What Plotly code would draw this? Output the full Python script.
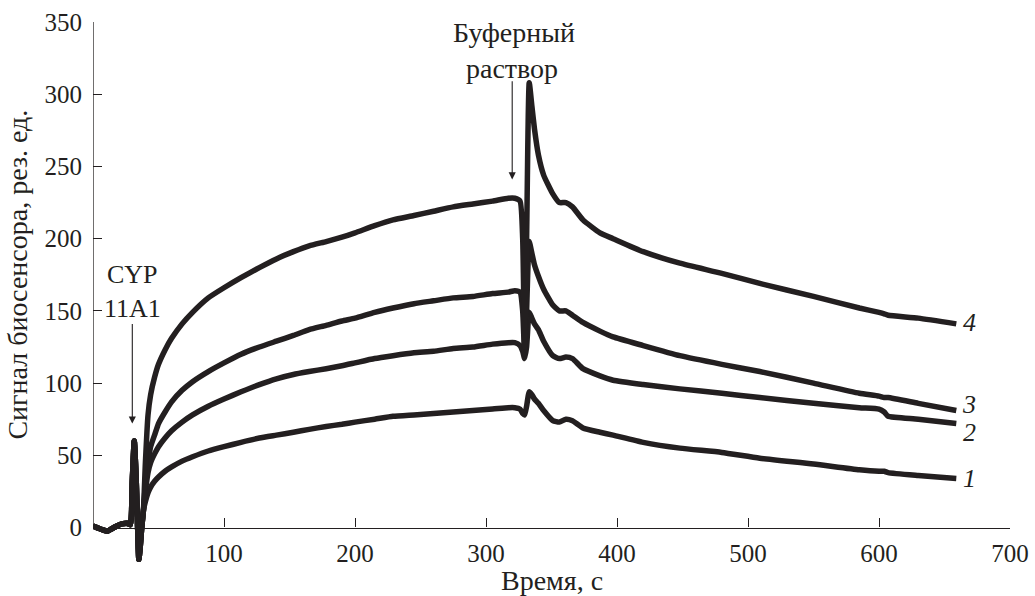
import plotly.graph_objects as go

# shared baseline + injection spike (all curves overlap here)
t_pre = [0, 3, 7, 11, 14, 16, 19, 22, 26, 28.5, 30, 31.5, 33, 34, 35, 36, 37, 38.5]
y_pre = [1, 0, -1.5, -2.5, -1, 0, 1.5, 2.5, 3, 2, 32, 60, 32, 2, -22, -14, -2, 12]

t = [40, 42, 44, 47, 50, 55, 60, 68, 76, 88,
     100, 113, 127, 140, 153, 165, 178, 190, 200, 215,
     229, 245, 260, 275, 290, 305, 317, 322, 326, 328,
     329.5, 331, 333, 335, 337, 340, 344, 351, 356, 361,
     366, 374, 387, 397, 420, 448, 480, 509, 550, 585,
     600, 604, 607, 630, 659]

curve4 = [45, 78, 92, 104, 113, 123, 131, 141, 149, 159,
          166, 173, 180, 186, 191, 195, 198, 201, 204, 209,
          213, 216, 219, 222, 224, 226, 228, 228, 226, 200,
          125, 200, 308, 292, 276, 258, 244, 231, 225, 225,
          222, 213, 204, 200, 191, 183, 176, 169, 160, 152,
          149, 148, 147, 145, 141]
curve3 = [30, 45, 56, 64, 72, 80, 87, 95, 101, 108,
          114, 120, 125, 129, 133, 137, 140, 143, 145, 149,
          152, 155, 157, 159, 160, 162, 163, 164, 163, 150,
          120, 150, 198, 190, 182, 174, 165, 154, 150, 150,
          147, 142, 136, 132, 126, 119, 113, 108, 100, 93,
          91, 90, 90, 86, 81]
curve2 = [25, 38, 45, 51, 56, 62, 67, 73, 78, 84,
          89, 94, 99, 103, 106, 108, 110, 112, 114, 117,
          119, 121, 122, 124, 125, 127, 128, 128, 126, 122,
          117, 125, 149, 145, 141, 137, 129, 119, 117, 118,
          117, 110, 105, 102, 99, 96, 93, 90, 86, 83,
          82, 80, 77, 75, 72]
curve1 = [18, 24, 28, 32, 35, 39, 42, 46, 49, 53,
          56, 59, 62, 64, 66, 68, 70, 71.5, 73, 75,
          77, 78, 79, 80, 81, 82, 83, 83, 82, 79,
          78, 84, 94, 92, 89, 86, 81, 74, 73, 75,
          74, 69, 66, 64, 59, 55, 52, 48, 44, 40,
          39, 39, 38, 36, 34]

curve_labels = ["1", "2", "3", "4"]
label_y = [34, 66, 85, 142]

x_ticks = [100, 200, 300, 400, 500, 600, 700]
y_ticks = [0, 50, 100, 150, 200, 250, 300, 350]

INK = "#231f20"
FONT = "Liberation Serif"
Y_MIN, Y_MAX = -28, 350
ANN = dict(family=FONT, size=28, color=INK)
LAT = dict(family=FONT, size=26, color=INK)

fig = go.Figure()
for vals in [curve1, curve2, curve3, curve4]:
    fig.add_trace(go.Scatter(x=t_pre + t, y=y_pre + vals, mode="lines",
                             line=dict(color=INK, width=5.5, shape="spline", smoothing=0.5),
                             showlegend=False, hoverinfo="skip"))

# curve number labels
for lab, ly in zip(curve_labels, label_y):
    fig.add_annotation(x=t[-1] + 10, y=ly, xref="x", yref="y", text=f"<i>{lab}</i>",
                       showarrow=False, xanchor="center", yanchor="middle", font=LAT)

# injection arrows
fig.add_annotation(x=30, y=72, ax=30, ay=142, xref="x", yref="y", axref="x", ayref="y",
                   text="", showarrow=True, arrowhead=2, arrowsize=1.3, arrowwidth=1.1,
                   arrowcolor=INK)
fig.add_annotation(x=30, y=175, xref="x", yref="y", text="CYP", showarrow=False, font=LAT)
fig.add_annotation(x=30, y=152, xref="x", yref="y", text="11A1", showarrow=False, font=LAT)

fig.add_annotation(x=320, y=241, ax=320, ay=310, xref="x", yref="y", axref="x", ayref="y",
                   text="", showarrow=True, arrowhead=2, arrowsize=1.3, arrowwidth=1.1,
                   arrowcolor=INK)
fig.add_annotation(x=321, y=343, xref="x", yref="y", text="Буферный", showarrow=False, font=ANN)
fig.add_annotation(x=320, y=318, xref="x", yref="y", text="раствор", showarrow=False, font=ANN)

# axis titles
fig.add_annotation(x=-0.082, y=175, xref="paper", yref="y", text="Сигнал биосенсора, рез. ед.",
                   textangle=-90, showarrow=False, xanchor="center", yanchor="middle", font=ANN)
fig.add_annotation(x=0.5, y=-0.022, xref="paper", yref="paper", text="Время, с",
                   showarrow=False, xanchor="center", yanchor="middle", font=ANN)

# y-axis line from 0 to 350
fig.add_shape(type="line", xref="x", yref="y", x0=0, x1=0, y0=0, y1=Y_MAX,
              line=dict(color=INK, width=1.3))

fig.update_layout(
    width=1035, height=596,
    margin=dict(l=93, r=25, t=22, b=28),
    paper_bgcolor="white", plot_bgcolor="white",
    font=dict(family=FONT, size=25, color=INK),
    xaxis=dict(range=[0, 700], tickvals=x_ticks, ticks="inside", ticklen=9,
               tickwidth=1.2, tickcolor=INK, showline=True, linecolor=INK, linewidth=1.3,
               showgrid=False, zeroline=False, anchor="free",
               position=(0 - Y_MIN) / (Y_MAX - Y_MIN), ticklabelstandoff=3,
               automargin=False),
    yaxis=dict(range=[Y_MIN, Y_MAX], tickvals=y_ticks, ticks="inside", ticklen=9,
               tickwidth=1.2, tickcolor=INK, showline=False, showgrid=False,
               zeroline=False, ticklabelstandoff=10, automargin=False),
)

fig.write_html("out.html")
